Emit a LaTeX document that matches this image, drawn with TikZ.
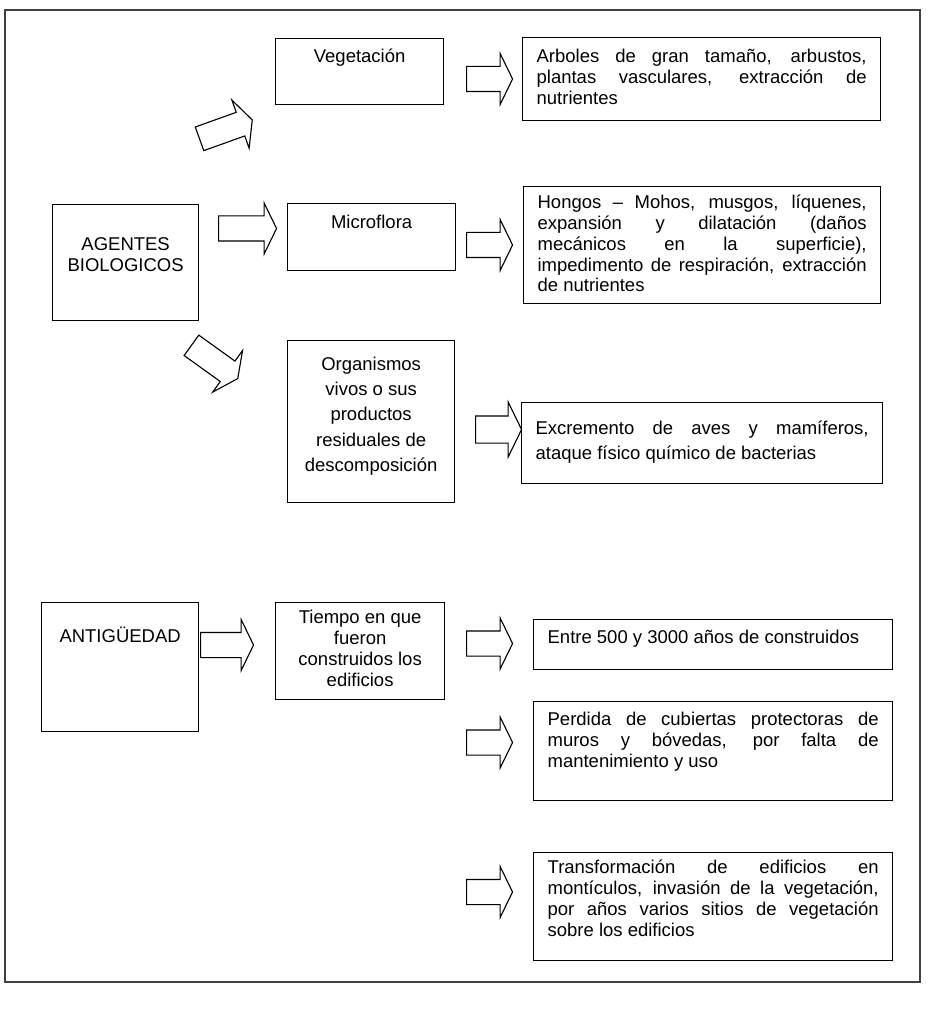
\documentclass[tikz,border=0pt]{standalone}
\usepackage{fontspec}
\setmainfont{Liberation Sans}
\usetikzlibrary{shapes.arrows}

\newlength{\px}
\setlength{\px}{0.025cm}
% text of a box: width, height, first baseline, content
\newcommand{\boxtext}[4]{\parbox[t][#2\px][t]{#1\px}{\rule{0pt}{#3\px}#4}}

\begin{document}
\begin{tikzpicture}[
    x=\px, y=-\px,
    box/.style={rectangle, draw, line width=0.9pt, anchor=north west, inner xsep=14\px, inner ysep=0pt,
        font=\fontsize{13.15}{14.8}\selectfont},
    loose/.style={font=\fontsize{13.15}{17.9}\selectfont},
    bigarrow/.style={single arrow, draw, line width=0.8pt, fill=white, anchor=tail, inner sep=0pt,
        text height=12\px, text depth=12\px, minimum width=50\px, minimum height=46\px,
        single arrow head extend=13\px, single arrow tip angle=128},
    frame/.style={draw=black!75, line width=1.2pt}
]
\useasboundingbox (0,0) rectangle (928,1024);
\draw[frame] (5,10) rectangle (920,982);

% Agentes biologicos
\node[box] (agentes) at (52,204) {\boxtext{118}{116}{46}{\centering AGENTES\\BIOLOGICOS}};

% Vegetacion
\node[box] (veg) at (275,38) {\boxtext{140}{66}{24}{\centering Vegetación}};
\node[box] (arboles) at (522,37) {\boxtext{330}{83}{25}{Arboles de gran tamaño, arbustos,\linebreak plantas vasculares, extracción de\linebreak nutrientes}};
\node[bigarrow, minimum height=56\px, rotate=19.7] (aveg) at (199,139) {};
\node[bigarrow] (aarb) at (466,79) {};

% Microflora
\node[box] (micro) at (287,203) {\boxtext{140}{67}{25}{\centering Microflora}};
\node[box] (hongos) at (523,186) {\boxtext{329}{117}{22}{Hongos – Mohos, musgos, líquenes,\linebreak expansión y dilatación (daños\linebreak mecánicos en la superficie),\linebreak impedimento de respiración, extracción\linebreak de nutrientes}};
\node[bigarrow, minimum height=58\px] (amic) at (218,228.5) {};
\node[bigarrow] (ahon) at (466,245) {};

% Organismos
\node[box, loose] (organismos) at (287,340) {\boxtext{139}{162}{30}{\centering Organismos\\vivos o sus\\productos\\residuales de\\descomposición}};
\node[box, loose] (excremento) at (521,402) {\boxtext{333}{81}{32}{Excremento de aves y mamíferos,\linebreak ataque físico químico de bacterias}};
\node[bigarrow, minimum height=57\px, rotate=-35.7] (aorg) at (191,345) {};
\node[bigarrow, minimum width=54\px, text height=13\px, text depth=13\px,
    single arrow head extend=14\px] (aexc) at (475,429.5) {};

% Antiguedad
\node[box] (antig) at (41,602) {\boxtext{129}{129}{40}{\centering ANTIGÜEDAD}};
\node[box] (tiempo) at (275,602) {\boxtext{141}{97}{21}{\centering Tiempo en que\\fueron\\construidos los\\edificios}};
\node[bigarrow, minimum height=53\px] (atie) at (200,645) {};

\node[box] (entre) at (533,619) {\boxtext{331}{50}{24}{Entre 500 y 3000 años de construidos}};
\node[box] (perdida) at (533,701) {\boxtext{331}{99}{24}{Perdida de cubiertas protectoras de\linebreak muros y bóvedas, por falta de\linebreak mantenimiento y uso}};
\node[box] (transf) at (533,852) {\boxtext{331}{108}{21}{Transformación de edificios en\linebreak montículos, invasión de la vegetación,\linebreak por años varios sitios de vegetación\linebreak sobre los edificios}};
\node[bigarrow] (aent) at (466,643.5) {};
\node[bigarrow] (aper) at (466,742.5) {};
\node[bigarrow] (atra) at (466,892) {};

\end{tikzpicture}
\end{document}
